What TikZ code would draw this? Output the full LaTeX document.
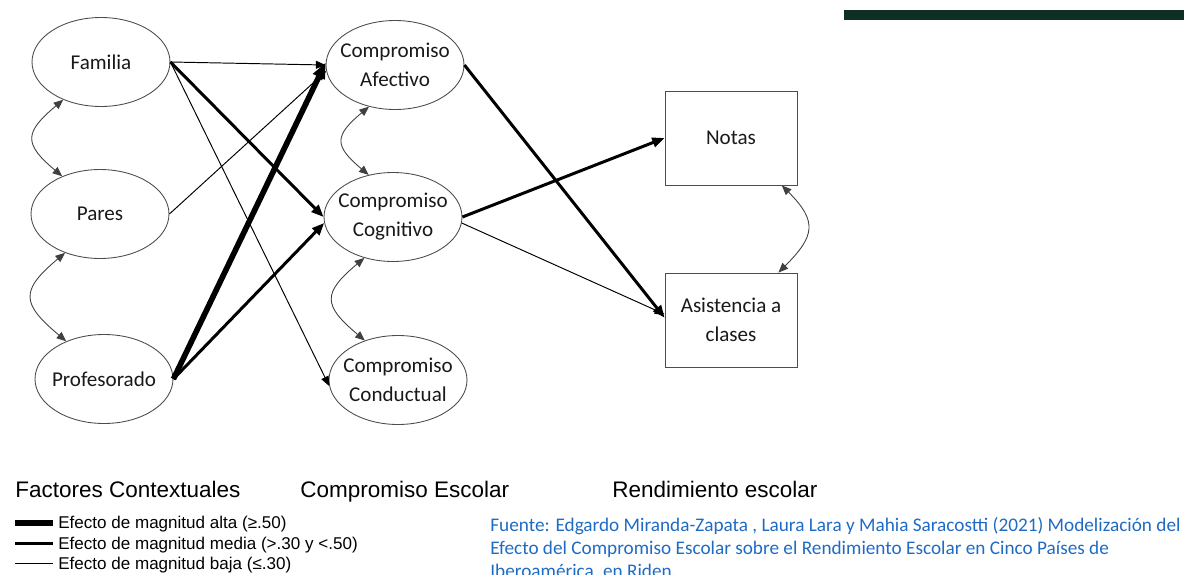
\documentclass[tikz,border=0pt]{standalone}
\usepackage{fontspec}
\setmainfont{Carlito}
\newfontfamily\arialfont{Liberation Sans}
\usetikzlibrary{arrows.meta,shapes.geometric}

\definecolor{barra}{HTML}{0F2E25}
\definecolor{fuenteazul}{HTML}{1F6BC4}

\begin{document}
\begin{tikzpicture}[x=0.02cm, y=-0.02cm,
  factor/.style={ellipse, draw=black!70, line width=0.5pt, minimum width=2.76cm, minimum height=1.78cm,
    inner xsep=-8pt, inner ysep=0pt, align=center, text=black!90, font=\fontsize{12}{16.5}\selectfont},
  resultado/.style={rectangle, draw=black!70, line width=0.5pt, minimum width=2.64cm, minimum height=1.88cm,
    inner sep=0pt, align=center, text=black!90, font=\fontsize{12}{16.5}\selectfont},
  baja/.style={-{Triangle[length=5.5pt,width=4.5pt]}, line width=0.55pt},
  media/.style={-{Triangle[length=7pt,width=5.5pt]}, line width=1.7pt},
  alta/.style={-{Triangle[length=9pt,width=7pt]}, line width=3.2pt},
  corr/.style={{Triangle[length=5.5pt,width=4.5pt]}-{Triangle[length=5.5pt,width=4.5pt]}, line width=0.5pt, draw=black!75},
  titulo/.style={anchor=base west, inner sep=0pt, font=\arialfont\fontsize{12.8}{15}\selectfont},
  leyenda/.style={anchor=base west, inner sep=0pt, font=\arialfont\fontsize{9.7}{12}\selectfont},
  fuente/.style={anchor=base west, inner sep=0pt, text=fuenteazul, font=\fontsize{10.95}{13}\selectfont}]
\useasboundingbox (0,0) rectangle (1184,575);
\fill[barra] (844,10) rectangle (1184,20);

% factores contextuales
\node[factor] (Familia) at (101,62) {Familia};
\node[factor] (Pares) at (100,214) {Pares};
\node[factor] (Profesorado) at (104,379) {Profesorado};

% compromiso escolar
\node[factor] (Afectivo) at (395,65) {Compromiso\\Afectivo};
\node[factor] (Cognitivo) at (393,217) {Compromiso\\Cognitivo};
\node[factor] (Conductual) at (398,380) {Compromiso\\Conductual};

% rendimiento escolar
\node[resultado] (Notas) at (731,138) {Notas};
\node[resultado] (Asistencia) at (731,320) {Asistencia a\\clases};

% efectos
\draw[baja] (Familia.east) -- (Afectivo.west);
\draw[media] (Familia.east) -- (Cognitivo.west);
\draw[baja] (Familia.east) -- (Conductual.185);
\draw[baja] (Pares.east) -- (Afectivo.185);
\draw[alta] (Profesorado.east) -- (Afectivo.178);
\draw[media] (Profesorado.east) -- (Cognitivo.185);
\draw[media] (Afectivo.east) -- (Asistencia.178);
\draw[media] (Cognitivo.east) -- (Notas.west);
\draw[baja] (Cognitivo.-5) -- (Asistencia.175);

% correlaciones
\draw[corr] (Familia.225) to[out=220, in=140, looseness=1.7] (Pares.135);
\draw[corr] (Pares.228) to[out=220, in=140, looseness=1.7] (Profesorado.135);
\draw[corr] (Afectivo.238) to[out=220, in=140, looseness=1.7] (Cognitivo.120);
\draw[corr] (Cognitivo.235) to[out=220, in=140, looseness=1.7] (Conductual.130);
\draw[corr] (Notas.-43) to[out=-45, in=45, looseness=1.5] (Asistencia.45);

% titulos
\node[titulo] (tFactores) at (15,497) {Factores Contextuales};
\node[titulo] (tCompromiso) at (300,497) {Compromiso Escolar};
\node[titulo] (tRendimiento) at (612,497) {Rendimiento escolar};

% leyenda
\coordinate (altaA) at (15,523);
\coordinate (altaB) at (53,523);
\coordinate (mediaA) at (15,543);
\coordinate (mediaB) at (53,543);
\coordinate (bajaA) at (15,563);
\coordinate (bajaB) at (53,563);
\draw[line width=3.2pt] (altaA) -- (altaB);
\draw[line width=1.7pt] (mediaA) -- (mediaB);
\draw[line width=0.55pt] (bajaA) -- (bajaB);
\node[leyenda] (lAlta) at (58,528) {Efecto de magnitud alta (≥.50)};
\node[leyenda] (lMedia) at (58,549) {Efecto de magnitud media (>.30 y <.50)};
\node[leyenda] (lBaja) at (58,569) {Efecto de magnitud baja (≤.30)};

% fuente
\node[fuente] (fuenteA) at (490,531) {Fuente: Edgardo Miranda-Zapata , Laura Lara y Mahia Saracostti (2021) Modelización del};
\node[fuente] (fuenteB) at (490,554) {Efecto del Compromiso Escolar sobre el Rendimiento Escolar en Cinco Países de};
\node[fuente] (fuenteC) at (490,577) {Iberoamérica, en Riden.};
\end{tikzpicture}
\end{document}
